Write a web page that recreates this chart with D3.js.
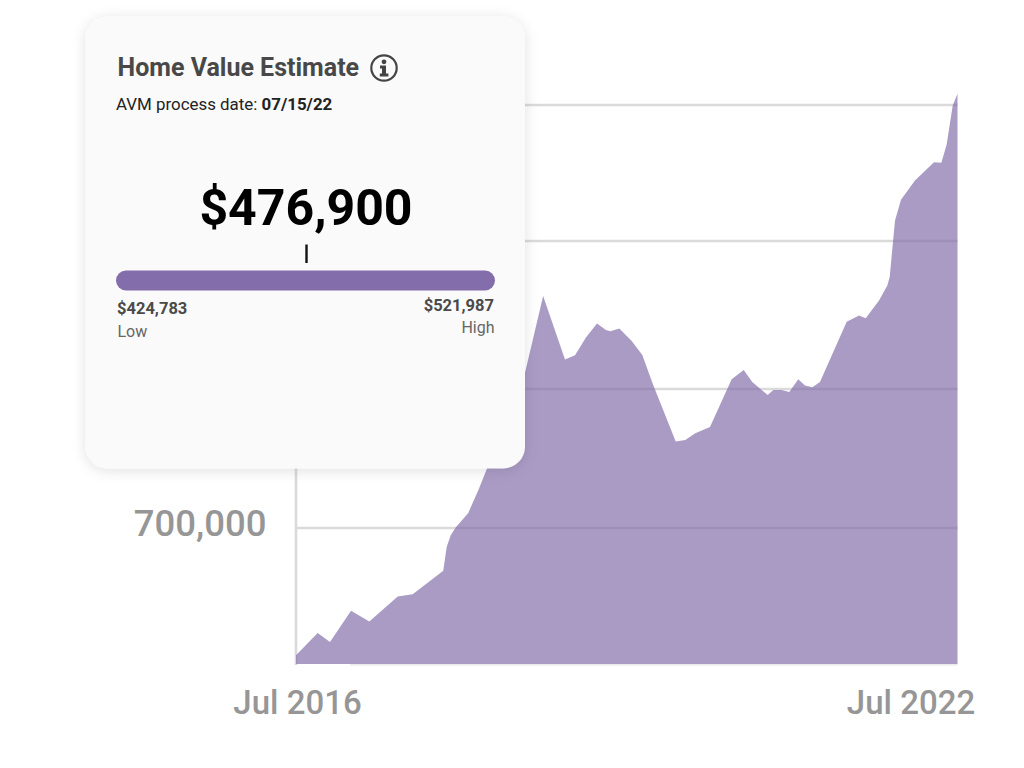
<!DOCTYPE html>
<html><head><meta charset="utf-8">
<script src="https://cdn.jsdelivr.net/npm/d3@7/dist/d3.min.js"></script>
<style>html,body{margin:0;padding:0;background:#fff}svg{display:block}text{font-family:Roboto,sans-serif}</style>
</head><body><svg id="c" width="1024" height="768"></svg>
<script>
const monthsSinceStart=[0,2.36,3.7,5.99,7.98,11.07,12.7,16.03,16.4,16.84,17.38,18.75,19.84,20.76,22.2,23.8,24.92,26.9,29.28,30.37,31.56,32.76,33.74,34.21,35.19,36.54,37.69,38.89,41.33,42.37,43.46,45.06,47.42,48.73,49.66,51.34,51.95,52.87,53.69,54.67,55.4,56.2,57.03,59.94,61.28,62.01,63.46,64.36,64.62,65.2,65.85,67.37,69.44,70.24,70.82,71.48,72];
const homeValues=[608100,624000,617500,640000,632400,650400,652000,668800,686000,694500,700000,710500,726800,741900,770000,795200,811200,866600,820900,824000,836700,846800,842200,841200,843200,834200,824200,802400,761900,763000,767800,772400,806700,813400,804700,795400,799000,799000,797600,806700,802200,800900,804700,848200,852700,850600,863500,874300,880300,921100,936000,949800,963000,962600,975700,1003800,1012200];
const gridValues=[700000,800000,906200,1004500];
const yLabelValues=[700000];
const xTickMonths=[0,72];
const xTickLabels=["Jul 2016","Jul 2022"];
const title="Home Value Estimate";
const estimate=476900, low=424783, high=521987;

const svg=d3.select("#c");
const defs=svg.append("defs");
const f=defs.append("filter").attr("id","sh").attr("x","-10%").attr("y","-10%").attr("width","120%").attr("height","120%");
f.append("feDropShadow").attr("dx",0).attr("dy",2).attr("stdDeviation",7).attr("flood-color","#000").attr("flood-opacity",0.12);

const x=d3.scaleLinear().domain([0,72]).range([296,957.5]);
const y=d3.scaleLinear().domain([700000,800000]).range([527.5,388.6]);
const baseV=601700;
const grey="#dadada";

svg.append("g").selectAll("line").data(gridValues).join("line")
 .attr("x1",x(0)).attr("x2",x(72)).attr("y1",d=>Math.round(y(d))).attr("y2",d=>Math.round(y(d)))
 .attr("stroke",grey).attr("stroke-width",2.6);
svg.append("line").attr("x1",x(0)).attr("x2",x(0)).attr("y1",y(1004500)).attr("y2",y(baseV)+1)
 .attr("stroke",grey).attr("stroke-width",2.6);
svg.append("line").attr("x1",x(5.9)).attr("x2",x(72)).attr("y1",y(baseV)+0.8).attr("y2",y(baseV)+0.8)
 .attr("stroke","#e4e4e4").attr("stroke-width",1.4);

const area=d3.area().x(d=>x(d[0])).y0(y(baseV)).y1(d=>y(d[1]));
svg.append("path").datum(d3.zip(monthsSinceStart,homeValues)).attr("d",area)
 .attr("fill","#836dab").attr("fill-opacity",0.685);

const yAxis=d3.axisLeft(y).tickValues(yLabelValues).tickFormat(d3.format(",")).tickSize(0).tickPadding(29.5);
const gy=svg.append("g").attr("transform","translate(296,-3.5)").call(yAxis);
gy.select(".domain").remove();
gy.selectAll("text").attr("font-size",36.5).attr("font-weight",500).attr("font-family","Roboto,sans-serif").attr("fill","#969696");

const xAxis=d3.axisBottom(x).tickValues(xTickMonths).tickFormat((d,i)=>xTickLabels[i]).tickSize(0).tickPadding(0);
const gx=svg.append("g").attr("transform","translate(0,691)").call(xAxis);
gx.select(".domain").remove();
gx.selectAll("text").attr("font-size",33).attr("font-weight",500).attr("font-family","Roboto,sans-serif").attr("fill","#969696")
 .attr("dx",(d,i)=>i?-47:1);

// card
const card=svg.append("g");
card.append("rect").attr("x",85.5).attr("y",16.5).attr("width",439.5).attr("height",452).attr("rx",22)
 .attr("fill","#fafafa").attr("filter","url(#sh)");
const T=(s,px,py,size,w,fill,anchor)=>card.append("text").attr("x",px).attr("y",py).attr("font-size",size).attr("font-weight",w).attr("fill",fill).attr("text-anchor",anchor||"start").text(s);
T(title,117.5,76,25,700,"#484848");
// info icon
const ic=card.append("g").attr("transform","translate(384,68)");
ic.append("circle").attr("r",12.7).attr("fill","none").attr("stroke","#444").attr("stroke-width",2.2);
ic.append("circle").attr("cx",0).attr("cy",-6.2).attr("r",2.4).attr("fill","#444");
ic.append("path").attr("d","M-4-2.4h6v8h2.4v2.8h-8.6v-2.8h2.2v-5.2h-2z").attr("fill","#444");
const sub=card.append("text").attr("x",116).attr("y",110).attr("font-size",16.9).attr("fill","#222");
sub.append("tspan").text("AVM process date: ");
sub.append("tspan").attr("font-weight",700).text("07/15/22");
const usd=d3.format("$,");
T(usd(estimate),306,225,50,700,"#000","middle");
const bar=d3.scaleLinear().domain([low,high]).range([116,495]);
card.append("rect").attr("x",bar(low)).attr("y",270.5).attr("width",bar(high)-bar(low)).attr("height",20).attr("rx",10).attr("fill","#836dab");
card.append("line").attr("x1",306.5).attr("x2",306.5).attr("y1",244.5).attr("y2",263).attr("stroke","#111").attr("stroke-width",2.4);
T(usd(low),117,314,16.5,700,"#4a4a4a");
T("Low",117.5,337,16,400,"#666");
T(usd(high),494,311,16.5,700,"#4a4a4a","end");
T("High",494.5,333,16,400,"#666","end");
</script></body></html>
